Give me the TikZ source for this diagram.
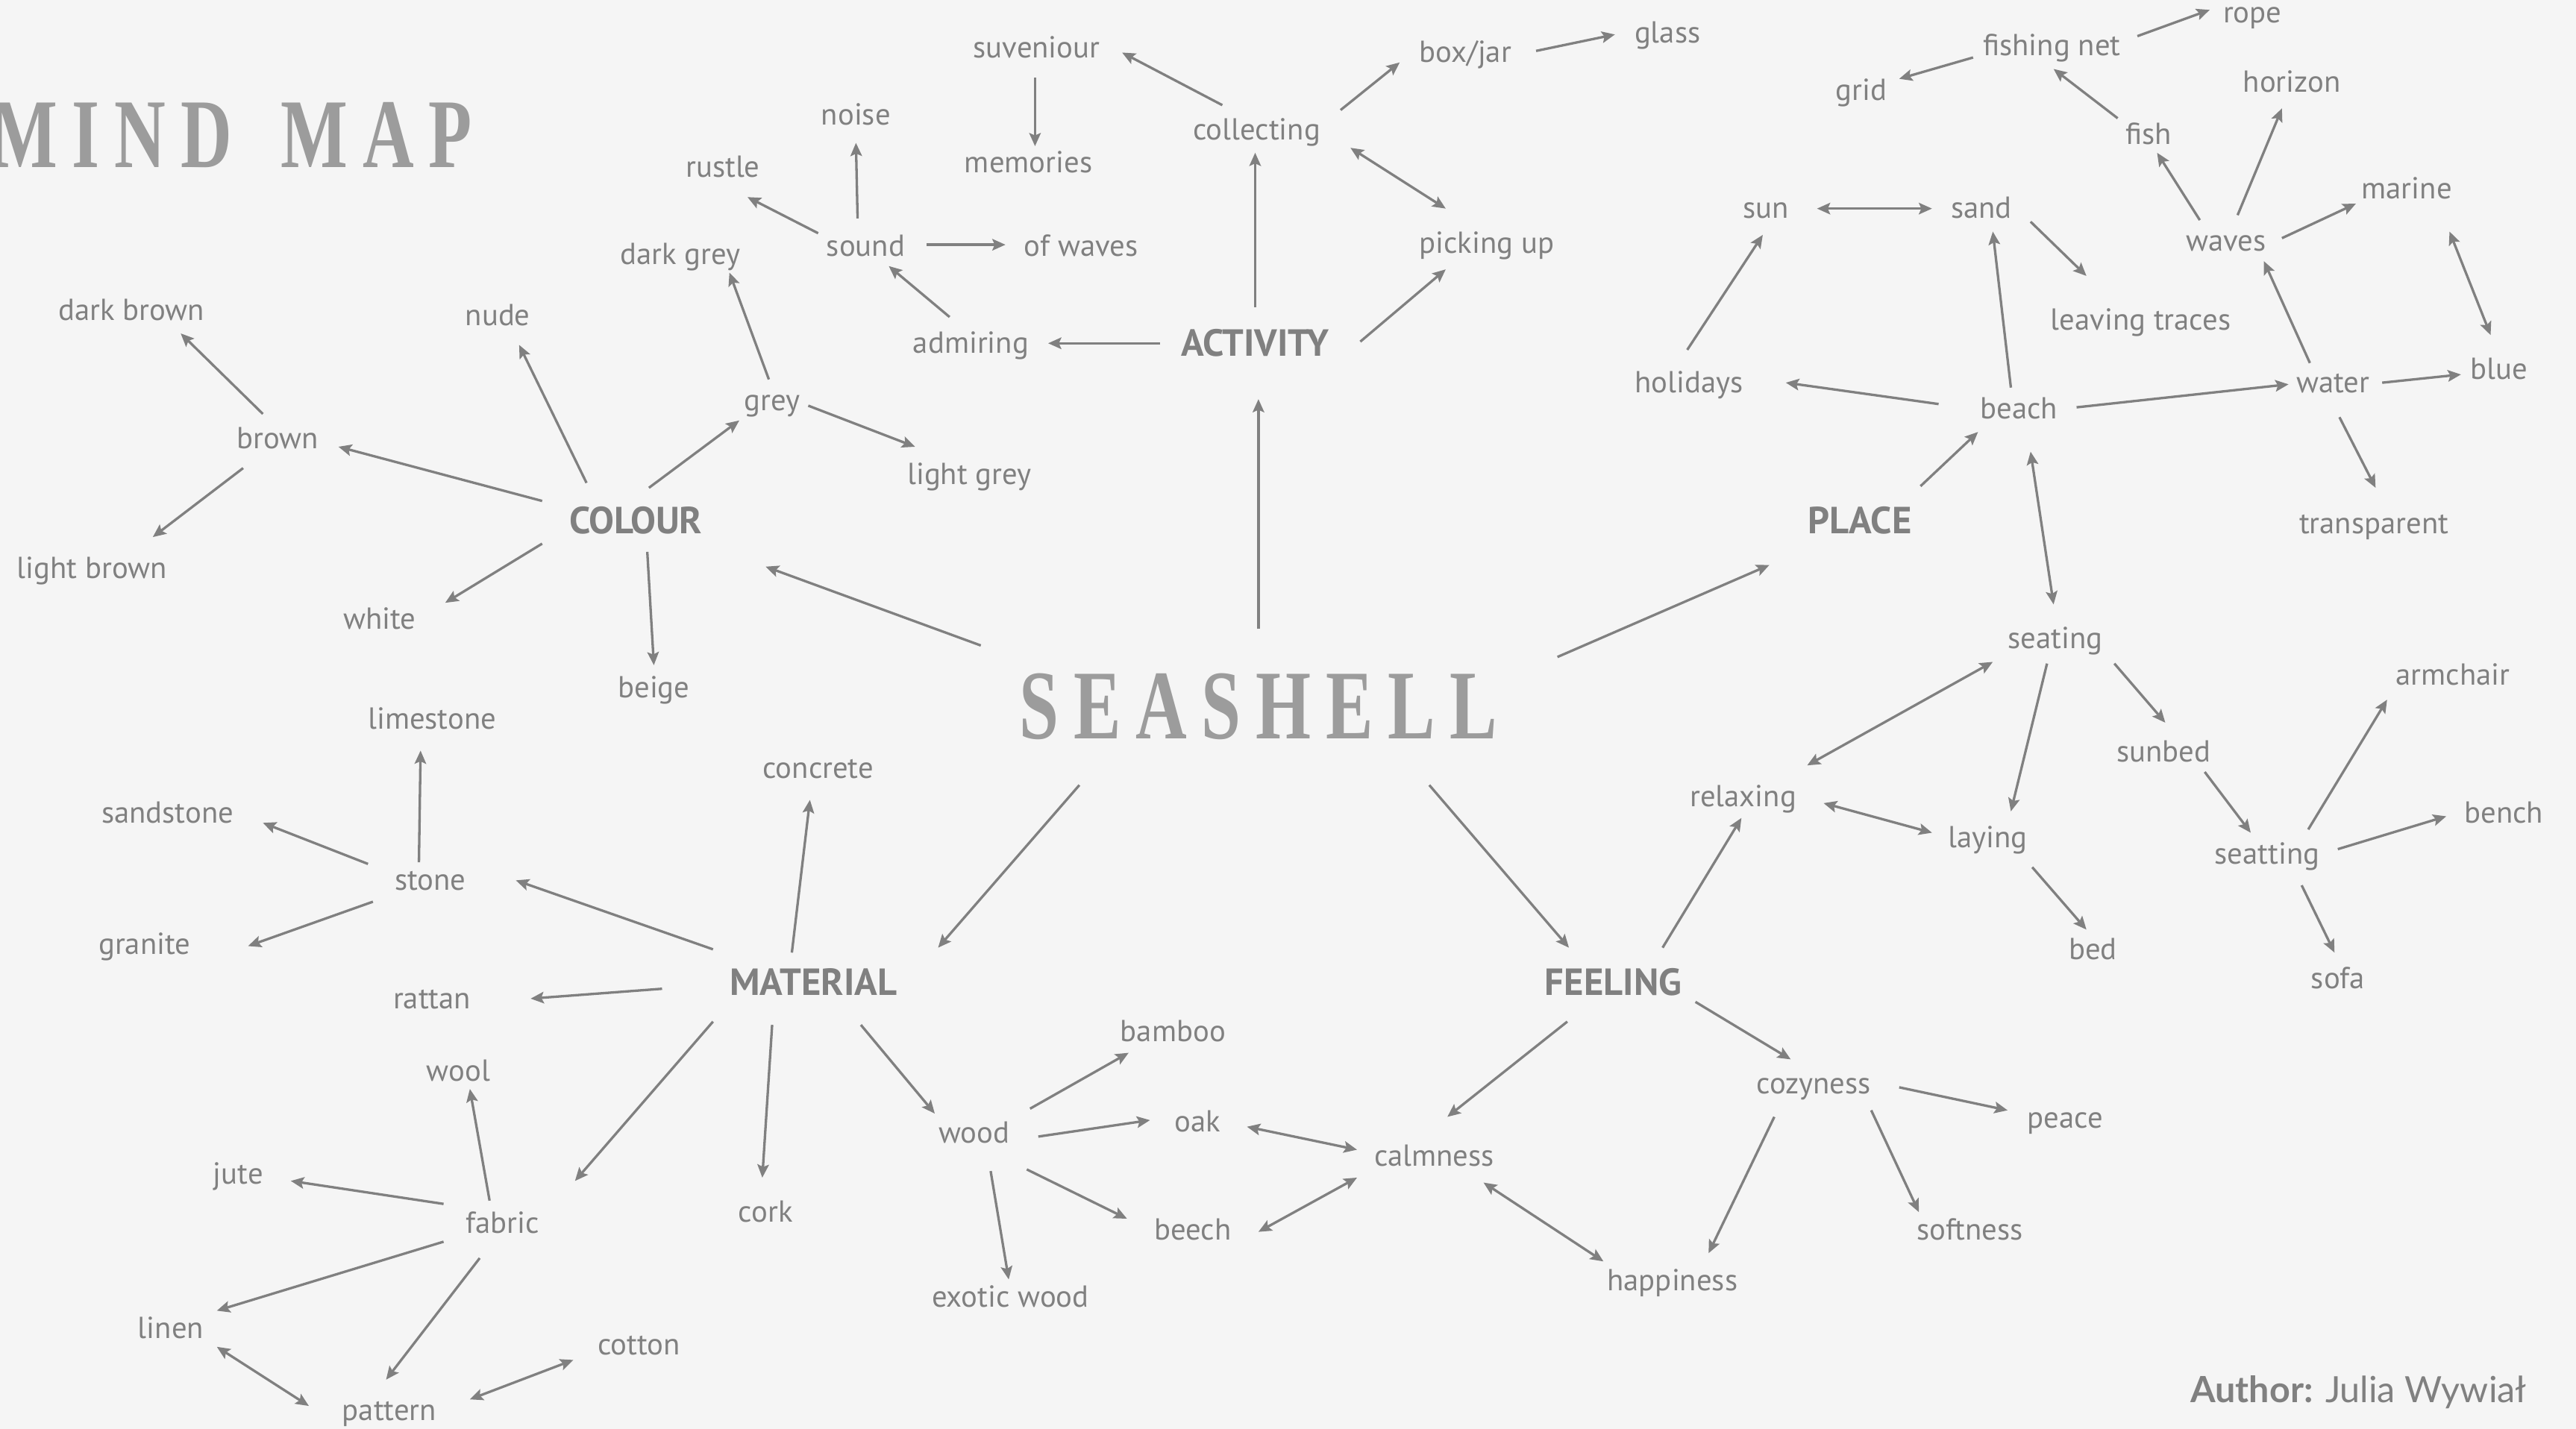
\documentclass[tikz,border=0pt]{standalone}
\usepackage{fontspec}
\usetikzlibrary{arrows.meta,calc}
\newfontfamily\lblfont{PT Sans}
\newfontfamily\ttlfont[FakeStretch=0.72,LetterSpace=15]{Liberation Serif}
\newfontfamily\authfont{Lato}
\definecolor{bg}{HTML}{F5F5F5}
\definecolor{ink}{HTML}{808080}
\definecolor{ttlgray}{HTML}{9C9C9C}
\newcommand{\mmlink}[5][con]{\draw[#1] ($(#2.base)+(#3)$) -- ($(#4.base)+(#5)$);}
\begin{document}
\begin{tikzpicture}[x=1pt,y=-1pt,
  >={Stealth[length=8pt,width=7pt,inset=1.5pt]},
  lbl/.style={font=\lblfont\fontsize{18.5}{20}\selectfont, text=ink, anchor=base, inner sep=0pt,
    execute at begin node={\lower2pt\hbox\bgroup}, execute at end node={\egroup}},
  hdr/.style={font=\lblfont\bfseries\fontsize{23}{25}\selectfont, text=ink, anchor=base, inner sep=0pt,
    execute at begin node={\lower1pt\hbox\bgroup}, execute at end node={\egroup}},
  ttl/.style={font=\ttlfont\bfseries\fontsize{60}{64}\selectfont, text=ttlgray, anchor=base, inner sep=0pt},
  con/.style={draw=ink, line width=1.5pt, ->},
  bicon/.style={draw=ink, line width=1.5pt, <->}]
\fill[bg] (0,0) rectangle (1568,870);
\useasboundingbox (0,0) rectangle (1568,870);

% titles
\node[ttl, anchor=base west] (mindmap) at (-6,102) {MIND\hspace{10pt} MAP};
\node[ttl] (seashell) at (766,450) {SEASHELL};
\node[font=\authfont\fontsize{22}{24}\selectfont, text=ink, anchor=base east, inner sep=0pt] (author) at (1538,854) {\textbf{Author:} Julia Wywiał};

% headers
\node[hdr] (activity) at (764,216) {ACTIVITY};
\node[hdr] (colour) at (387,324) {COLOUR};
\node[hdr] (place) at (1132,324) {PLACE};
\node[hdr] (material) at (495,605) {MATERIAL};
\node[hdr] (feeling) at (982,605) {FEELING};

% activity
\node[lbl] (suveniour) at (631,33) {suveniour};
\node[lbl] (memories) at (626,103) {memories};
\node[lbl] (collecting) at (765,83) {collecting};
\node[lbl] (boxjar) at (892,36) {box/jar};
\node[lbl] (glass) at (1015,24) {glass};
\node[lbl] (noise) at (521,74) {noise};
\node[lbl] (rustle) at (440,106) {rustle};
\node[lbl] (sound) at (527,154) {sound};
\node[lbl] (ofwaves) at (658,154) {of waves};
\node[lbl] (pickingup) at (905,152) {picking up};
\node[lbl] (admiring) at (591,213) {admiring};
% colour
\node[lbl] (darkgrey) at (414,159) {dark grey};
\node[lbl] (nude) at (303,196) {nude};
\node[lbl] (darkbrown) at (80,193) {dark brown};
\node[lbl] (brown) at (169,271) {brown};
\node[lbl] (lightbrown) at (56,350) {light brown};
\node[lbl] (grey) at (470,248) {grey};
\node[lbl] (lightgrey) at (590,293) {light grey};
\node[lbl] (white) at (231,381) {white};
\node[lbl] (beige) at (398,423) {beige};
% place
\node[lbl] (sun) at (1075,131) {sun};
\node[lbl] (sand) at (1206,131) {sand};
\node[lbl] (leavingtraces) at (1303,199) {leaving traces};
\node[lbl] (holidays) at (1028,237) {holidays};
\node[lbl] (beach) at (1229,253) {beach};
\node[lbl] (water) at (1420,237) {water};
\node[lbl] (blue) at (1521,229) {blue};
\node[lbl] (transparent) at (1445,323) {transparent};
\node[lbl] (waves) at (1355,151) {waves};
\node[lbl] (marine) at (1465,119) {marine};
\node[lbl] (fish) at (1308,86) {fish};
\node[lbl] (horizon) at (1395,54) {horizon};
\node[lbl] (fishingnet) at (1249,32) {fishing net};
\node[lbl] (grid) at (1133,59) {grid};
\node[lbl] (rope) at (1371,12) {rope};
% feeling
\node[lbl] (seating) at (1251,393) {seating};
\node[lbl] (sunbed) at (1317,462) {sunbed};
\node[lbl] (seatting) at (1380,524) {seatting};
\node[lbl] (armchair) at (1493,415) {armchair};
\node[lbl] (bench) at (1524,499) {bench};
\node[lbl] (sofa) at (1423,600) {sofa};
\node[lbl] (relaxing) at (1061,489) {relaxing};
\node[lbl] (laying) at (1210,514) {laying};
\node[lbl] (bed) at (1274,582) {bed};
\node[lbl] (cozyness) at (1104,664) {cozyness};
\node[lbl] (peace) at (1257,685) {peace};
\node[lbl] (softness) at (1199,753) {softness};
\node[lbl] (happiness) at (1018,784) {happiness};
\node[lbl] (calmness) at (873,708) {calmness};
% material
\node[lbl] (concrete) at (498,472) {concrete};
\node[lbl] (limestone) at (263,442) {limestone};
\node[lbl] (sandstone) at (102,499) {sandstone};
\node[lbl] (stone) at (262,540) {stone};
\node[lbl] (granite) at (88,579) {granite};
\node[lbl] (rattan) at (263,612) {rattan};
\node[lbl] (wool) at (279,656) {wool};
\node[lbl] (jute) at (145,719) {jute};
\node[lbl] (fabric) at (306,749) {fabric};
\node[lbl] (cork) at (466,742) {cork};
\node[lbl] (linen) at (104,813) {linen};
\node[lbl] (pattern) at (237,863) {pattern};
\node[lbl] (cotton) at (389,823) {cotton};
\node[lbl] (wood) at (593,694) {wood};
\node[lbl] (bamboo) at (714,632) {bamboo};
\node[lbl] (oak) at (729,687) {oak};
\node[lbl] (beech) at (726,753) {beech};
\node[lbl] (exoticwood) at (615,794) {exotic wood};

% main
\mmlink{seashell}{0,-67}{activity}{2,27}
\mmlink{seashell}{-169,-57}{colour}{79,21}
\mmlink{seashell}{182,-50}{place}{-55,20}
\mmlink{seashell}{-109,28}{material}{76,-28}
\mmlink{seashell}{104,28}{feeling}{-27,-28}
% activity
\mmlink{activity}{-58,-7}{admiring}{47,-4}
\mmlink{activity}{0,-29}{collecting}{-1,10}
\mmlink{activity}{64,-8}{pickingup}{-25,12}
\mmlink{admiring}{-13,-20}{sound}{14,8}
\mmlink{sound}{37,-5}{ofwaves}{-46,-5}
\mmlink{sound}{-5,-21}{noise}{0,13}
\mmlink{sound}{-29,-12}{rustle}{15,14}
\mmlink{suveniour}{-1,14}{memories}{4,-14}
\mmlink{collecting}{-21,-19}{suveniour}{52,-1}
\mmlink{collecting}{51,-16}{boxjar}{-40,2}
\mmlink{boxjar}{43,-5}{glass}{-32,-3}
\mmlink[bicon]{collecting}{57,7}{pickingup}{-25,-25}
% colour
\mmlink{colour}{8,-27}{grey}{-20,8}
\mmlink{grey}{-2,-17}{darkgrey}{30,7}
\mmlink{grey}{22,-1}{lightgrey}{-33,-21}
\mmlink{colour}{-30,-30}{nude}{13,14}
\mmlink{colour}{-57,-19}{brown}{37,1}
\mmlink{brown}{-9,-19}{darkbrown}{30,10}
\mmlink{brown}{-21,14}{lightbrown}{37,-23}
\mmlink{colour}{-57,7}{white}{40,-14}
\mmlink{colour}{7,12}{beige}{0,-18}
% place
\mmlink{place}{37,-28}{beach}{-25,10}
\mmlink{beach}{-5,-17}{sand}{7,10}
\mmlink{beach}{-49,-7}{holidays}{59,-4}
\mmlink{beach}{35,-5}{water}{-27,-3}
\mmlink{holidays}{-1,-24}{sun}{-2,12}
\mmlink[bicon]{sun}{31,-4}{sand}{-30,-4}
\mmlink{sand}{30,4}{leavingtraces}{-33,-31}
\mmlink{water}{-14,-16}{waves}{23,8}
\mmlink{water}{30,-4}{blue}{-23,-1}
\mmlink{water}{4,17}{transparent}{1,-26}
\mmlink{waves}{-16,-17}{fish}{5,7}
\mmlink{waves}{7,-20}{horizon}{-6,12}
\mmlink{waves}{34,-6}{marine}{-31,5}
\mmlink[bicon]{marine}{26,22}{blue}{-5,-25}
\mmlink{fish}{-19,-14}{fishingnet}{1,10}
\mmlink{fishingnet}{-48,3}{grid}{23,-11}
\mmlink{fishingnet}{52,-10}{rope}{-26,-6}
\mmlink[bicon]{beach}{7,22}{seating}{-1,-25}
% feeling
\mmlink{feeling}{30,-28}{relaxing}{-1,9}
\mmlink{feeling}{50,5}{cozyness}{-14,-19}
\mmlink{feeling}{-28,17}{calmness}{8,-28}
\mmlink[bicon]{relaxing}{39,-23}{seating}{-38,10}
\mmlink[bicon]{relaxing}{49,0}{laying}{-34,-7}
\mmlink{seating}{-5,11}{laying}{14,-20}
\mmlink{seating}{36,11}{sunbed}{1,-22}
\mmlink{laying}{27,14}{bed}{-4,-16}
\mmlink{sunbed}{25,8}{seatting}{-10,-17}
\mmlink{seatting}{25,-19}{armchair}{-40,11}
\mmlink{seatting}{43,-7}{bench}{-35,-2}
\mmlink{seatting}{21,15}{sofa}{-2,-20}
\mmlink{cozyness}{52,-2}{peace}{-35,-9}
\mmlink{cozyness}{35,12}{softness}{-31,-15}
\mmlink{cozyness}{-24,16}{happiness}{22,-21}
\mmlink[bicon]{calmness}{30,12}{happiness}{-42,-16}
\mmlink[bicon]{calmness}{-47,-8}{oak}{30,-1}
\mmlink[bicon]{calmness}{-47,9}{beech}{40,-3}
% material
\mmlink{material}{-13,-25}{concrete}{-5,15}
\mmlink{material}{-61,-27}{stone}{52,-4}
\mmlink{material}{-92,-3}{rattan}{60,-4}
\mmlink{material}{-61,17}{fabric}{44,-30}
\mmlink{material}{-25,19}{cork}{-2,-25}
\mmlink{material}{29,19}{wood}{-24,-16}
\mmlink{stone}{-7,-15}{limestone}{-7,15}
\mmlink{stone}{-38,-14}{sandstone}{58,2}
\mmlink{stone}{-35,9}{granite}{63,-3}
\mmlink{fabric}{-8,-18}{wool}{7,7}
\mmlink{fabric}{-36,-16}{jute}{32,0}
\mmlink{fabric}{-36,7}{linen}{28,-15}
\mmlink{fabric}{-14,17}{pattern}{-2,-23}
\mmlink[bicon]{linen}{28,7}{pattern}{-49,-7}
\mmlink[bicon]{pattern}{49,-11}{cotton}{-40,5}
\mmlink{wood}{34,-19}{bamboo}{-27,9}
\mmlink{wood}{39,-2}{oak}{-29,-5}
\mmlink{wood}{32,18}{beech}{-40,-11}
\mmlink{wood}{10,19}{exoticwood}{-1,-15}
\end{tikzpicture}
\end{document}
